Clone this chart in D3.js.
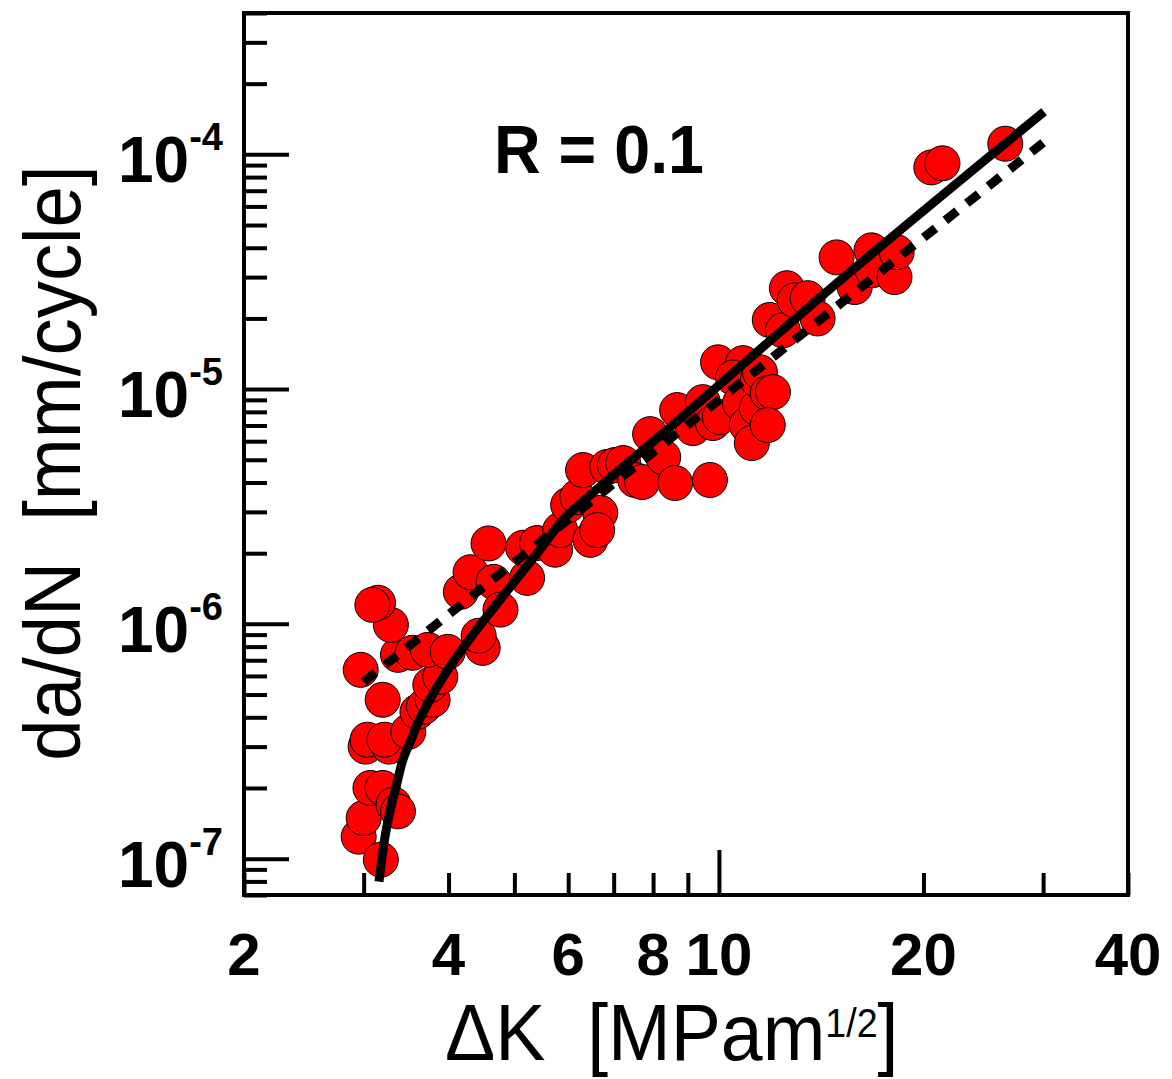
<!DOCTYPE html>
<html>
<head>
<meta charset="utf-8">
<script src="https://cdn.jsdelivr.net/npm/d3@7"></script>
<style>
  body { margin: 0; background: #fff; }
  text { font-family: "Liberation Sans", Arial, Helvetica, sans-serif; }
</style>
</head>
<body>
<div id="my_dataviz"></div>
<script>
// axis ranges and labelled ticks
var xDomain = [2, 40];
var yDomain = [7e-8, 4e-4];
var xTickLabels = [2, 4, 6, 8, 10, 20, 40];
var xMajor = [10];
var yMajor = [1e-7, 1e-6, 1e-5, 1e-4];
var yExponents = ["-7", "-6", "-5", "-4"];

// measured points: delta K [MPa m^1/2] and da/dN [mm/cycle]
var dK = [2.95, 3.00, 3.18, 3.07, 3.20, 3.32, 3.37, 3.02, 3.04, 3.27,
          3.22, 3.49, 3.60, 3.68, 3.79, 3.20, 2.97, 3.76, 3.89, 3.37,
          3.54, 3.73, 3.99, 3.29, 3.15, 3.09, 4.49, 4.43, 4.17, 4.31,
          4.66, 4.77, 5.22, 4.58, 5.15, 5.40, 5.74, 5.84, 6.00, 6.19,
          6.31, 6.69, 6.47, 6.62, 6.85, 7.03, 7.23, 7.53, 7.71, 7.92,
          8.28, 8.62, 9.70, 8.68, 9.16, 9.47, 9.80, 10.03, 9.97, 10.85,
          10.49, 10.74, 10.99, 11.18, 11.37, 11.41, 11.49, 11.80, 12.01, 11.80,
          11.88, 12.42, 12.59, 12.93, 13.51, 13.97, 14.90, 15.84, 16.77, 16.83,
          18.13, 18.26, 20.54, 21.33, 26.39];
var dadN = [1.24e-7, 1.49e-7, 9.9e-8, 2.0e-7, 2.0e-7, 1.70e-7, 1.59e-7, 3.0e-7, 3.21e-7, 3.0e-7,
            3.21e-7, 3.47e-7, 4.22e-7, 4.44e-7, 4.75e-7, 4.75e-7, 6.37e-7, 5.50e-7, 5.95e-7, 7.38e-7,
            7.53e-7, 7.75e-7, 7.60e-7, 9.9e-7, 1.23e-6, 1.205e-6, 7.9e-7, 8.9e-7, 1.37e-6, 1.66e-6,
            1.51e-6, 1.15e-6, 1.57e-6, 2.2e-6, 2.11e-6, 2.21e-6, 2.07e-6, 2.51e-6, 3.21e-6, 3.47e-6,
            4.52e-6, 2.97e-6, 2.28e-6, 2.51e-6, 4.66e-6, 4.75e-6, 4.84e-6, 4.10e-6, 4.02e-6, 6.43e-6,
            5.13e-6, 3.98e-6, 4.10e-6, 8.14e-6, 6.82e-6, 8.80e-6, 7.17e-6, 7.60e-6, 1.30e-5, 1.29e-5,
            1.12e-5, 8.72e-6, 7.03e-6, 5.89e-6, 8.30e-6, 1.09e-5, 1.18e-5, 9.62e-6, 9.71e-6, 7.03e-6,
            1.97e-5, 1.78e-5, 2.69e-5, 2.39e-5, 2.44e-5, 2.00e-5, 3.64e-5, 2.72e-5, 3.90e-5, 3.21e-5,
            3.00e-5, 3.83e-5, 8.80e-5, 9.16e-5, 1.11e-4];

// solid fitted curve
var fitK = [3.16, 3.22, 3.29, 3.36, 3.42, 3.52, 3.60, 3.70, 3.79, 3.99,
            4.31, 4.66, 5.05, 5.46, 5.84, 6.47, 7.40, 8.48, 14.55, 30.1];
var fitRate = [7.98e-8, 1.205e-7, 1.65e-7, 2.11e-7, 2.59e-7, 3.18e-7, 3.75e-7, 4.39e-7, 4.99e-7, 6.37e-7,
               8.72e-7, 1.17e-6, 1.57e-6, 2.08e-6, 2.69e-6, 3.54e-6, 4.94e-6, 6.89e-6, 2.66e-5, 1.52e-4];

// dotted Paris line
var parisK = [3.0, 30];
var parisRate = [5.66e-7, 1.12e-4];

var margin = {top: 13, right: 44, bottom: 184, left: 244},
    width = 1172 - margin.left - margin.right,
    height = 1079 - margin.top - margin.bottom;

var svg = d3.select("#my_dataviz")
  .append("svg")
    .attr("width", 1172)
    .attr("height", 1079)
  .append("g")
    .attr("transform", "translate(" + margin.left + "," + margin.top + ")");

var x = d3.scaleLog().domain(xDomain).range([0, width]);
var y = d3.scaleLog().domain(yDomain).range([height, 0]);

function styleAxis(g) {
  g.select(".domain").remove();
  g.selectAll(".tick line").attr("stroke", "#000").attr("stroke-width", 4);
}

// x ticks, pointing inward
var xMinor = x.ticks().filter(function (d) { return xMajor.indexOf(d) < 0; });
svg.append("g")
  .attr("transform", "translate(0," + height + ")")
  .call(d3.axisBottom(x).tickValues(xMinor).tickSize(-22).tickFormat(""))
  .call(styleAxis);
svg.append("g")
  .attr("transform", "translate(0," + height + ")")
  .call(d3.axisBottom(x).tickValues(xMajor).tickSize(-45).tickFormat(""))
  .call(styleAxis);

// y ticks
var yMinor = y.ticks().filter(function (d) {
  return !yMajor.some(function (m) { return Math.abs(m - d) / m < 1e-6; });
});
svg.append("g")
  .call(d3.axisLeft(y).tickValues(yMinor).tickSize(-23).tickFormat(""))
  .call(styleAxis);
svg.append("g")
  .call(d3.axisLeft(y).tickValues(yMajor).tickSize(-45).tickFormat(""))
  .call(styleAxis);

// tick labels
svg.append("g").selectAll("text")
  .data(xTickLabels)
  .enter()
  .append("text")
    .attr("x", function (d) { return x(d); })
    .attr("y", height + 80)
    .attr("text-anchor", "middle")
    .style("font-size", "60px")
    .style("font-weight", "bold")
    .text(function (d) { return d; });

var yLab = svg.append("g").selectAll("text")
  .data(yMajor)
  .enter()
  .append("text")
    .attr("x", -21)
    .attr("y", function (d) { return y(d) + 28; })
    .attr("text-anchor", "end")
    .style("font-weight", "bold");
yLab.append("tspan").style("font-size", "64px").text("10");
yLab.append("tspan")
    .style("font-size", "38px")
    .attr("dy", -32)
    .text(function (d, i) { return yExponents[i]; });

// data points
var pts = dK.map(function (k, i) { return [k, dadN[i]]; });
svg.append("g")
  .selectAll("circle")
  .data(pts)
  .enter()
  .append("circle")
    .attr("cx", function (d) { return x(d[0]); })
    .attr("cy", function (d) { return y(d[1]); })
    .attr("r", 17.5)
    .style("fill", "#ff0000")
    .style("stroke", "#000")
    .style("stroke-width", 1);

// dotted Paris line
var paris = parisK.map(function (k, i) { return [k, parisRate[i]]; });
svg.append("path")
  .datum(paris)
  .attr("d", d3.line().x(function (d) { return x(d[0]); }).y(function (d) { return y(d[1]); }))
  .style("fill", "none")
  .style("stroke", "#000")
  .style("stroke-width", 9)
  .style("stroke-dasharray", "15,12.5");

// solid fitted curve
var fit = fitK.map(function (k, i) { return [k, fitRate[i]]; });
svg.append("path")
  .datum(fit)
  .attr("d", d3.line()
    .curve(d3.curveMonotoneX)
    .x(function (d) { return x(d[0]); })
    .y(function (d) { return y(d[1]); }))
  .style("fill", "none")
  .style("stroke", "#000")
  .style("stroke-width", 9);

// frame
svg.append("rect")
  .attr("width", width)
  .attr("height", height)
  .style("fill", "none")
  .style("stroke", "#000")
  .style("stroke-width", 4);

// annotation
svg.append("text")
  .attr("transform", "translate(" + (494 - margin.left) + "," + (173 - margin.top) + ") scale(0.95,1)")
  .style("font-size", "68px")
  .style("font-weight", "bold")
  .text("R = 0.1");

// axis titles
var xTitle = svg.append("text")
  .attr("transform", "translate(" + (445 - margin.left) + "," + (1060 - margin.top) + ") scale(0.94,1)")
  .style("font-size", "80px");
xTitle.append("tspan").text("\u0394K\u00a0\u00a0[MPam");
xTitle.append("tspan").attr("dy", -23).style("font-size", "40px").text("1/2");
xTitle.append("tspan").attr("dy", 23).text("]");

svg.append("text")
  .attr("transform", "translate(" + (80 - margin.left) + "," + 450 + ") rotate(-90) scale(0.93,1)")
  .attr("text-anchor", "middle")
  .style("font-size", "80px")
  .text("da/dN\u00a0\u00a0[mm/cycle]");
</script>
</body>
</html>
